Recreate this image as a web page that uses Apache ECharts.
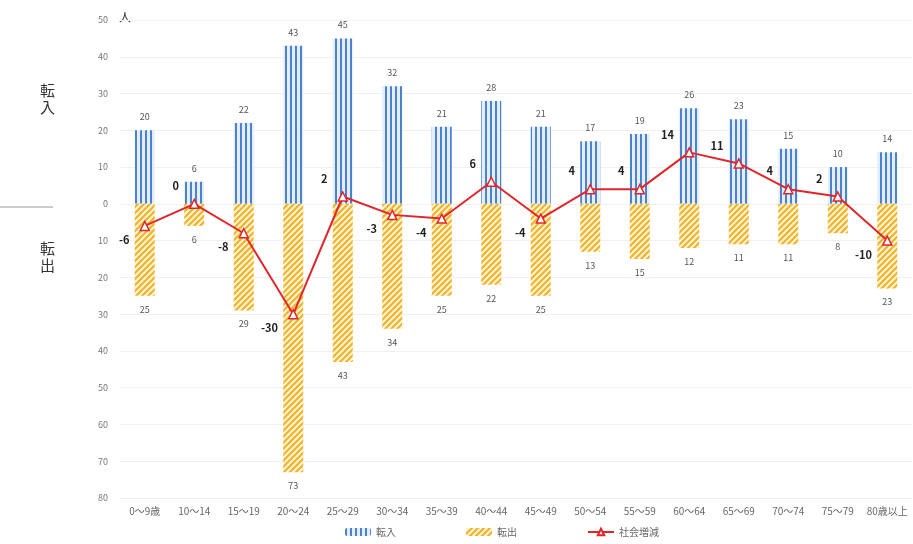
<!DOCTYPE html>
<html lang="ja">
<head>
    <meta charset="UTF-8">
    <title>年齢別 転入・転出</title>
    <script src="https://cdn.jsdelivr.net/npm/echarts@6/dist/echarts.min.js"></script>
    <style>
        body { margin: 0; background: #fff; }
    </style>
</head>
<body>
    <div id="main" style="width: 913px;height:544px;"></div>

<script>
    // 年齢区分
    var ages = ['0～9歳', '10～14', '15～19', '20～24', '25～29', '30～34', '35～39', '40～44',
        '45～49', '50～54', '55～59', '60～64', '65～69', '70～74', '75～79', '80歳以上'];
    // 転入（人）
    var tennyu = [20, 6, 22, 43, 45, 32, 21, 28, 21, 17, 19, 26, 23, 15, 10, 14];
    // 転出（人）
    var tenshutsu = [25, 6, 29, 73, 43, 34, 25, 22, 25, 13, 15, 12, 11, 11, 8, 23];
    // 社会増減（人）
    var zougen = [-6, 0, -8, -30, 2, -3, -4, 6, -4, 4, 4, 14, 11, 4, 2, -10];

    var font = '"Noto Sans CJK JP", sans-serif';

    // 縦じま（転入）
    function stripeV() {
        var c = document.createElement('canvas');
        c.width = 5; c.height = 5;
        var ctx = c.getContext('2d');
        ctx.fillStyle = '#e4eefa';
        ctx.fillRect(0, 0, 5, 5);
        ctx.fillStyle = '#4a82cc';
        ctx.fillRect(0, 0, 2, 5);
        return c;
    }
    // 斜線（転出）
    function stripeD() {
        var s = 6;
        var c = document.createElement('canvas');
        c.width = s; c.height = s;
        var ctx = c.getContext('2d');
        ctx.fillStyle = '#fdf3d6';
        ctx.fillRect(0, 0, s, s);
        ctx.strokeStyle = '#f0b429';
        ctx.lineWidth = 2.2;
        ctx.beginPath();
        ctx.moveTo(-1, s + 1); ctx.lineTo(s + 1, -1);
        ctx.moveTo(-1, 1); ctx.lineTo(1, -1);
        ctx.moveTo(s - 1, s + 1); ctx.lineTo(s + 1, s - 1);
        ctx.stroke();
        return c;
    }

    var outData = tenshutsu.map(function (v) { return -v; });
    var lineData = zougen.map(function (v) {
        return {
            value: v,
            label: { offset: v < 0 ? [0, 14] : [0, -18] }
        };
    });

    var myChart = echarts.init(document.getElementById('main'));

    var option = {
        textStyle: { fontFamily: font },
        grid: { left: 120, right: 1, top: 20, bottom: 46 },
        legend: {
            bottom: 2,
            left: 340,
            itemGap: 70,
            itemWidth: 26,
            itemHeight: 8,
            textStyle: { fontSize: 10, color: '#666', fontFamily: font },
            data: ['転入', '転出', '社会増減']
        },
        xAxis: {
            type: 'category',
            data: ages,
            axisLine: { show: false, onZero: false },
            axisTick: { show: false },
            axisLabel: { color: '#666', fontSize: 10, interval: 0, margin: 8 }
        },
        yAxis: {
            type: 'value',
            min: -80,
            max: 50,
            interval: 10,
            axisLine: { show: false },
            axisTick: { show: false },
            splitLine: { lineStyle: { color: '#f0f0f0' } },
            axisLabel: {
                color: '#777', fontSize: 9, margin: 12,
                formatter: function (v) { return Math.abs(v); }
            }
        },
        series: [
            {
                name: '転入',
                type: 'bar',
                stack: 'a',
                barWidth: 20,
                data: tennyu,
                itemStyle: { color: { image: stripeV(), repeat: 'repeat' } },
                label: { show: true, position: 'top', distance: 9, color: '#555', fontSize: 9 }
            },
            {
                name: '転出',
                type: 'bar',
                stack: 'a',
                barWidth: 20,
                data: outData,
                itemStyle: { color: { image: stripeD(), repeat: 'repeat' } },
                label: {
                    show: true, position: 'bottom', distance: 9, color: '#555', fontSize: 9,
                    formatter: function (p) { return Math.abs(p.value); }
                }
            },
            {
                name: '社会増減',
                type: 'line',
                data: lineData,
                symbol: 'triangle',
                symbolSize: 9,
                z: 5,
                lineStyle: { color: '#e0262a', width: 2 },
                itemStyle: { color: '#fff', borderColor: '#e0262a', borderWidth: 1.5 },
                label: {
                    show: true, position: 'left', distance: 10,
                    color: '#222', fontSize: 11, fontWeight: 'bold'
                }
            }
        ],
        graphic: [
            { type: 'text', left: 119, top: 11, style: { text: '人', font: '12px ' + font, fill: '#333' } },
            { type: 'text', left: 40, top: 82, style: { text: '転\n入', font: '15px ' + font, fill: '#333', lineHeight: 17 } },
            { type: 'line', shape: { x1: 0, y1: 207, x2: 53, y2: 207 }, style: { stroke: '#999', lineWidth: 1 } },
            { type: 'text', left: 40, top: 240, style: { text: '転\n出', font: '15px ' + font, fill: '#333', lineHeight: 17 } }
        ]
    };

    myChart.setOption(option);
</script>
</body>
</html>
